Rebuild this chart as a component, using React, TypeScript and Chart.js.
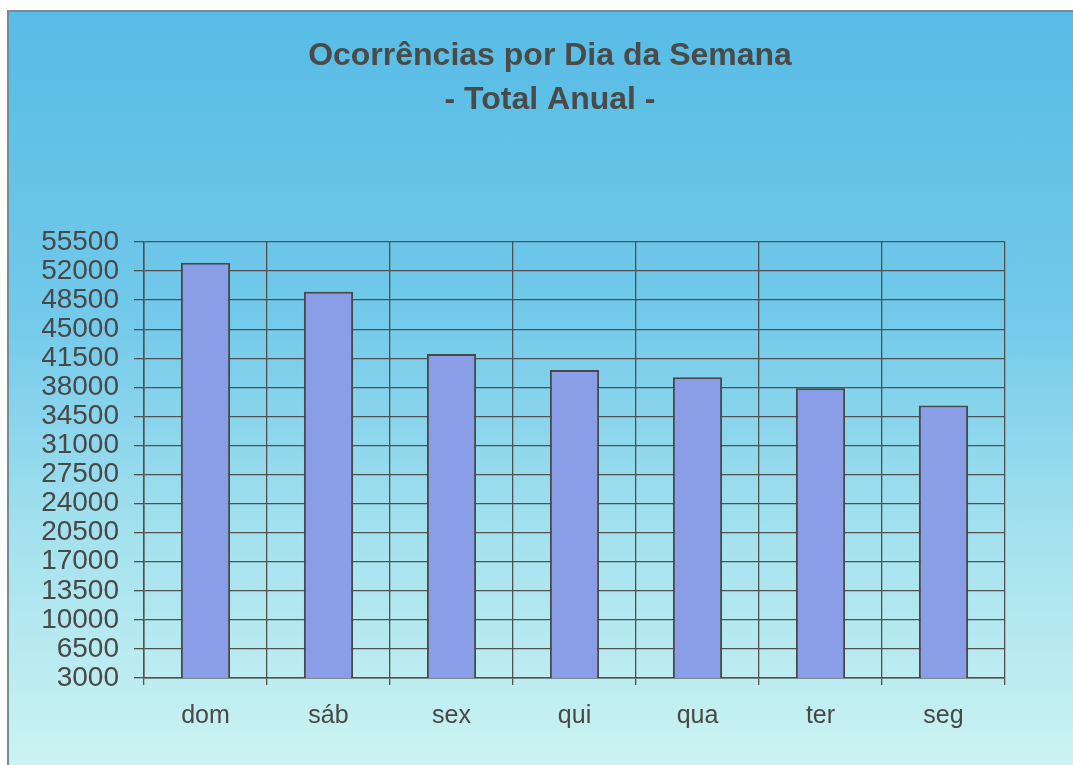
import React, { useEffect, useRef } from "react";
import { Chart, registerables } from "chart.js";

Chart.register(...registerables);

const titleLines = ["Ocorrências por Dia da Semana", "- Total Anual -"];
const categories = ["dom", "sáb", "sex", "qui", "qua", "ter", "seg"];
const values = [53000, 49500, 42000, 40100, 39200, 37900, 35800];
const yTicks = [3000, 6500, 10000, 13500, 17000, 20500, 24000, 27500, 31000, 34500, 38000, 41500, 45000, 48500, 52000, 55500];

export default function App() {
  const ref = useRef<HTMLCanvasElement | null>(null);

  useEffect(() => {
    document.body.style.overflow = "hidden";
    const ctx = ref.current!;
    const chart = new Chart(ctx, {
      type: "bar",
      data: {
        labels: categories,
        datasets: [
          {
            data: values,
            backgroundColor: "#8a9ee8",
            borderColor: "#484848",
            borderWidth: 2,
            barPercentage: 0.4,
            categoryPercentage: 1,
          },
        ],
      },
      options: {
        animation: false,
        responsive: true,
        maintainAspectRatio: false,
        layout: { padding: { left: 33, right: 17, top: 0, bottom: 20 } },
        plugins: {
          legend: { display: false },
          tooltip: { enabled: false },
          title: {
            display: true,
            text: titleLines,
            color: "#4a4a48",
            font: { family: "Liberation Sans, Arial, sans-serif", size: 32, weight: "bold", lineHeight: 1.375 },
            padding: { top: 22, bottom: 120 },
          },
        },
        scales: {
          x: {
            grid: {
              offset: true,
              color: "#505050",
              lineWidth: 1.3,
              tickLength: 7,
              drawOnChartArea: true,
            },
            border: { color: "#505050", width: 1.5 },
            ticks: {
              color: "#484848",
              font: { family: "Liberation Sans, Arial, sans-serif", size: 25 },
              padding: 16,
            },
          },
          y: {
            min: 3000,
            max: 55500,
            afterBuildTicks: (scale: any) => {
              scale.ticks = yTicks.map((v) => ({ value: v }));
            },
            afterFit: (scale: any) => {
              scale.width = 102;
            },
            grid: {
              color: "#505050",
              lineWidth: 1.3,
              tickLength: 10,
            },
            border: { color: "#505050", width: 1.5 },
            ticks: {
              autoSkip: false,
              color: "#484848",
              font: { family: "Liberation Sans, Arial, sans-serif", size: 28 },
              padding: 15,
              callback: (v: any) => String(v),
            },
          },
          ySpacer: {
            type: "linear",
            position: "right",
            display: true,
            grid: { display: false },
            border: { display: false },
            ticks: { display: false },
            afterFit: (scale: any) => {
              scale.width = 53;
            },
          },
        },
      },
    });
    return () => chart.destroy();
  }, []);

  return (
    <div
      style={{
        position: "absolute",
        left: 7,
        top: 10,
        width: 1066,
        height: 755,
        borderLeft: "2px solid #7a8a8e",
        borderTop: "2px solid #7a8a8e",
        background: "linear-gradient(to bottom, #57bce5 0%, #72c9ea 40%, #a5e2ee 70%, #ccf3f2 100%)",
      }}
    >
      <canvas ref={ref} />
    </div>
  );
}
